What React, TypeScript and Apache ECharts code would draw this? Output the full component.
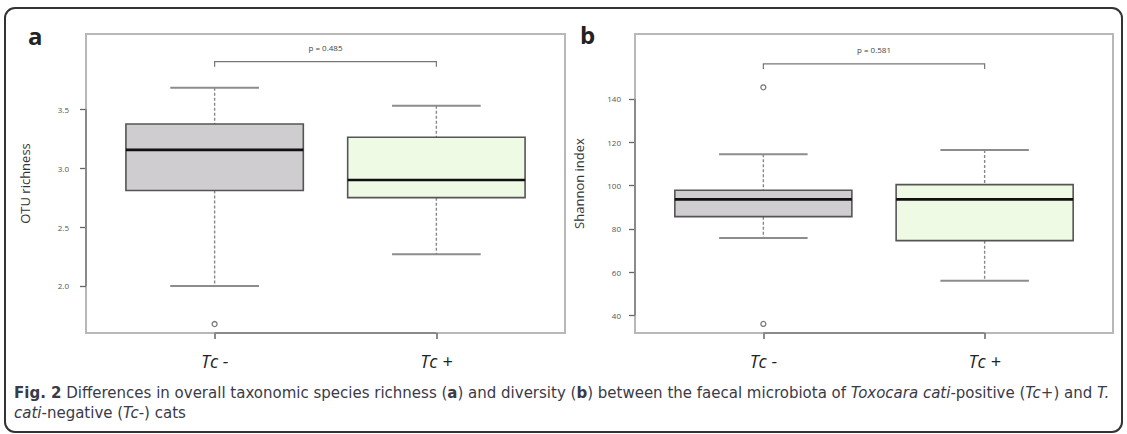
import React, { useEffect, useRef } from "react";
import * as echarts from "echarts";

const groups = ["Tc -", "Tc +"];
const groupPositions = [1, 2];
const boxFills = ["#cfcdcf", "#eefae4"];

// Panel a: OTU richness
const richnessLow = [2.0, 2.27];
const richnessQ1 = [2.81, 2.75];
const richnessMedian = [3.155, 2.9];
const richnessQ3 = [3.375, 3.262];
const richnessHigh = [3.683, 3.53];
const richnessOutliers = [[1, 1.677]];
const richnessTicks = [2.0, 2.5, 3.0, 3.5];
const richnessP = "p = 0.485";
const richnessBracketY = 3.904;

// Panel b: Shannon index
const shannonLow = [75.7, 56.0];
const shannonQ1 = [85.6, 74.5];
const shannonMedian = [93.6, 93.6];
const shannonQ3 = [97.8, 100.4];
const shannonHigh = [114.4, 116.4];
const shannonOutliers = [[1, 145.4], [1, 36.0]];
const shannonTicks = [40, 60, 80, 100, 120, 140];
const shannonP = "p = 0.581";
const shannonBracketY = 156.2;

const captionLine1 =
  "{b|Fig. 2} Differences in overall taxonomic species richness ({b|a}) and diversity ({b|b}) between the faecal microbiota of {i|Toxocara cati}-positive ({i|Tc}+) and {i|T.}";
const captionLine2 = "{i|cati}-negative ({i|Tc}-) cats";

const FONT = "'Open Sans', 'Noto Sans', sans-serif";
const CAP_FONT = "'DejaVu Sans', 'Open Sans', sans-serif";

function boxRender(params: any, api: any) {
  const x = api.value(0);
  const lo = api.value(1);
  const q1 = api.value(2);
  const med = api.value(3);
  const q3 = api.value(4);
  const hi = api.value(5);
  const halfW = api.size([0.4, 0])[0];
  const capHalf = halfW / 2;
  const pLo = api.coord([x, lo]);
  const pQ1 = api.coord([x, q1]);
  const pMed = api.coord([x, med]);
  const pQ3 = api.coord([x, q3]);
  const pHi = api.coord([x, hi]);
  const cx = pMed[0];
  const whisker = { stroke: "#888", lineWidth: 1.4, lineDash: [3, 2] };
  const cap = { stroke: "#8c8c8c", lineWidth: 2 };
  return {
    type: "group",
    children: [
      { type: "line", shape: { x1: cx, y1: pHi[1], x2: cx, y2: pQ3[1] }, style: whisker },
      { type: "line", shape: { x1: cx, y1: pQ1[1], x2: cx, y2: pLo[1] }, style: whisker },
      { type: "line", shape: { x1: cx - capHalf, y1: pHi[1], x2: cx + capHalf, y2: pHi[1] }, style: cap },
      { type: "line", shape: { x1: cx - capHalf, y1: pLo[1], x2: cx + capHalf, y2: pLo[1] }, style: cap },
      {
        type: "rect",
        shape: { x: cx - halfW, y: pQ3[1], width: halfW * 2, height: pQ1[1] - pQ3[1] },
        style: { fill: boxFills[params.dataIndex], stroke: "#555", lineWidth: 1.6 },
      },
      {
        type: "line",
        shape: { x1: cx - halfW, y1: pMed[1], x2: cx + halfW, y2: pMed[1] },
        style: { stroke: "#111", lineWidth: 2.6 },
      },
    ],
  };
}

function bracketRender(params: any, api: any) {
  const x1 = api.value(0);
  const x2 = api.value(1);
  const y = api.value(2);
  const p1 = api.coord([x1, y]);
  const p2 = api.coord([x2, y]);
  const label = params.seriesName;
  return {
    type: "group",
    children: [
      {
        type: "polyline",
        shape: { points: [[p1[0], p1[1] + 5], [p1[0], p1[1]], [p2[0], p2[1]], [p2[0], p2[1] + 5]] },
        style: { stroke: "#777", lineWidth: 1.2, fill: "none" },
      },
      {
        type: "text",
        style: {
          text: label,
          x: (p1[0] + p2[0]) / 2,
          y: p1[1] - 14,
          align: "center",
          verticalAlign: "middle",
          fontSize: 8,
          fontFamily: FONT,
          fill: "#444",
        },
      },
    ],
  };
}

function axisRender(params: any, api: any) {
  const xa = api.value(0);
  const xb = api.value(1);
  const ya = api.value(2);
  const yb = api.value(3);
  const yBottom = api.value(4);
  const xLeft = api.value(5);
  const b1 = api.coord([xa, yBottom]);
  const b2 = api.coord([xb, yBottom]);
  const l1 = api.coord([xLeft, ya]);
  const l2 = api.coord([xLeft, yb]);
  const st = { stroke: "#8a8a8a", lineWidth: 2 };
  return {
    type: "group",
    children: [
      { type: "line", shape: { x1: b1[0], y1: b1[1], x2: b2[0], y2: b2[1] }, style: st },
      { type: "line", shape: { x1: l1[0], y1: l1[1], x2: l2[0], y2: l2[1] }, style: st },
    ],
  };
}

function buildPanel(
  idx: number,
  low: number[],
  q1: number[],
  med: number[],
  q3: number[],
  high: number[],
  outliers: number[][],
  ticks: number[],
  pText: string,
  bracketY: number,
  yMin: number,
  yMax: number,
  decimals: number
) {
  const boxData = groupPositions.map((x, i) => [x, low[i], q1[i], med[i], q3[i], high[i]]);
  return {
    boxData,
    yMin,
    yMax,
    ticks,
    decimals,
    series: [
      {
        type: "custom",
        xAxisIndex: idx,
        yAxisIndex: idx,
        renderItem: axisRender,
        data: [[groupPositions[0], groupPositions[1], ticks[0], ticks[ticks.length - 1], yMin, 0.42]],
        silent: true,
        clip: false,
        z: 1,
      },
      {
        type: "custom",
        xAxisIndex: idx,
        yAxisIndex: idx,
        renderItem: boxRender,
        data: boxData,
        encode: { x: 0, y: [1, 2, 3, 4, 5] },
        z: 2,
      },
      {
        type: "scatter",
        xAxisIndex: idx,
        yAxisIndex: idx,
        data: outliers,
        symbol: "circle",
        symbolSize: 5,
        itemStyle: { color: "#fff", borderColor: "#555", borderWidth: 1.3 },
        z: 3,
      },
      {
        type: "custom",
        name: pText,
        xAxisIndex: idx,
        yAxisIndex: idx,
        renderItem: bracketRender,
        data: [[groupPositions[0], groupPositions[1], bracketY]],
        clip: false,
        z: 3,
      },
    ],
  };
}

export default function App() {
  const ref = useRef<HTMLDivElement>(null);
  useEffect(() => {
    document.body.style.margin = "0";
    if (!ref.current) return;
    const chart = echarts.init(ref.current, null, { renderer: "svg" });
    const pa = buildPanel(0, richnessLow, richnessQ1, richnessMedian, richnessQ3, richnessHigh, richnessOutliers, richnessTicks, richnessP, richnessBracketY, 1.601, 4.139, 1);
    const pb = buildPanel(1, shannonLow, shannonQ1, shannonMedian, shannonQ3, shannonHigh, shannonOutliers, shannonTicks, shannonP, shannonBracketY, 31.8, 170.05, 0);

    const xAxis = (gi: number) => ({
      type: "value",
      gridIndex: gi,
      min: 0.42,
      max: 2.58,
      axisLine: { show: false },
      splitLine: { show: false },
      axisTick: { show: true, customValues: groupPositions, length: 6, lineStyle: { color: "#666", width: 1.5 } },
      axisLabel: {
        customValues: groupPositions,
        formatter: (v: number) => groups[Math.round(v) - 1] ?? "",
        fontStyle: "italic",
        fontSize: 18,
        color: "#222",
        margin: 19,
        fontFamily: FONT,
      },
    });
    const yAxis = (gi: number, p: any, name: string, nameGap: number, margin: number) => ({
      type: "value",
      gridIndex: gi,
      min: p.yMin,
      max: p.yMax,
      axisLine: { show: false },
      splitLine: { show: false },
      axisTick: { show: true, customValues: p.ticks, length: 6, lineStyle: { color: "#666", width: 1.3 } },
      axisLabel: {
        customValues: p.ticks,
        formatter: (v: number) => v.toFixed(p.decimals),
        fontSize: 8,
        color: "#555",
        margin,
        fontFamily: FONT,
      },
      name,
      nameLocation: "middle",
      nameGap,
      nameTextStyle: { fontSize: 13, color: "#333", fontFamily: FONT },
    });

    const CAP = 15;
    const capStyle = (text: string, y: number) => ({
      type: "text",
      x: 14,
      y,
      style: {
        text,
        fontSize: CAP,
        verticalAlign: "middle",
        fill: "#3a3a48",
        fontFamily: CAP_FONT,
        rich: {
          b: { fontWeight: "bold", fontSize: CAP, fill: "#3a3a48", fontFamily: CAP_FONT },
          i: { fontStyle: "italic", fontSize: CAP, fill: "#3a3a48", fontFamily: CAP_FONT },
        },
      },
    });

    chart.setOption({
      animation: false,
      backgroundColor: "#fff",
      grid: [
        { left: 86, width: 479, top: 34, height: 299, show: true, borderColor: "#b8b8b8", borderWidth: 2, backgroundColor: "transparent" },
        { left: 635, width: 478, top: 34, height: 299, show: true, borderColor: "#b8b8b8", borderWidth: 2, backgroundColor: "transparent" },
      ],
      xAxis: [xAxis(0), xAxis(1)],
      yAxis: [yAxis(0, pa, "OTU richness", 55, 17), yAxis(1, pb, "Shannon index", 50, 14)],
      series: [...pa.series, ...pb.series],
      graphic: [
        {
          type: "rect",
          shape: { x: 5, y: 8, width: 1117, height: 424, r: 10 },
          style: { fill: "none", stroke: "#333", lineWidth: 2 },
          z: 0,
          silent: true,
        },
        {
          type: "text",
          x: 28,
          y: 23,
          style: { text: "a", fontSize: 24, fontWeight: "bold", fill: "#222", fontFamily: FONT },
        },
        {
          type: "text",
          x: 580,
          y: 22,
          style: { text: "b", fontSize: 24, fontWeight: "bold", fill: "#222", fontFamily: FONT },
        },
        capStyle(captionLine1, 393),
        capStyle(captionLine2, 413),
      ],
    });
    return () => chart.dispose();
  }, []);
  return <div ref={ref} style={{ width: 1127, height: 434 }} />;
}
